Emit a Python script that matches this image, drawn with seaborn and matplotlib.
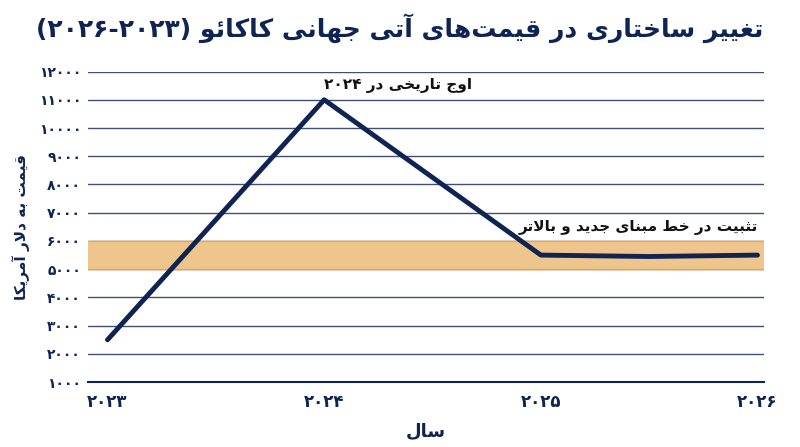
import matplotlib
matplotlib.use("Agg")
import matplotlib.pyplot as plt
import seaborn as sns
import pandas as pd

# data
years = [2023, 2024, 2025, 2025.5, 2026]
prices = [2500, 11000, 5500, 5450, 5500]
tick_years = [2023, 2024, 2025, 2026]
y_ticks = list(range(1000, 12001, 1000))
band_low, band_high = 5000, 6000

NAVY = "#0f2452"

# tiny Persian shaper (matplotlib does no Arabic shaping)
FORMS = {
    "ا": ("\uFE8D", "\uFE8E", None, None), "آ": ("\uFE81", "\uFE82", None, None),
    "د": ("\uFEA9", "\uFEAA", None, None), "ر": ("\uFEAD", "\uFEAE", None, None),
    "و": ("\uFEED", "\uFEEE", None, None),
    "ب": ("\uFE8F", "\uFE90", "\uFE91", "\uFE92"), "ت": ("\uFE95", "\uFE96", "\uFE97", "\uFE98"),
    "ث": ("\uFE99", "\uFE9A", "\uFE9B", "\uFE9C"), "ج": ("\uFE9D", "\uFE9E", "\uFE9F", "\uFEA0"),
    "خ": ("\uFEA5", "\uFEA6", "\uFEA7", "\uFEA8"), "س": ("\uFEB1", "\uFEB2", "\uFEB3", "\uFEB4"),
    "ط": ("\uFEC1", "\uFEC2", "\uFEC3", "\uFEC4"), "غ": ("\uFECD", "\uFECE", "\uFECF", "\uFED0"),
    "ق": ("\uFED5", "\uFED6", "\uFED7", "\uFED8"), "ل": ("\uFEDD", "\uFEDE", "\uFEDF", "\uFEE0"),
    "م": ("\uFEE1", "\uFEE2", "\uFEE3", "\uFEE4"), "ن": ("\uFEE5", "\uFEE6", "\uFEE7", "\uFEE8"),
    "ه": ("\uFEE9", "\uFEEA", "\uFEEB", "\uFEEC"), "ئ": ("\uFE89", "\uFE8A", "\uFE8B", "\uFE8C"),
    "ی": ("\uFBFC", "\uFBFD", "\uFBFE", "\uFBFF"), "ک": ("\uFB8E", "\uFB8F", "\uFB90", "\uFB91"),
}


def shape_word(w):
    # lam-alef ligature marker
    chars = list(w)
    out = []
    i = 0
    while i < len(chars):
        c = chars[i]
        if c == "ل" and i + 1 < len(chars) and chars[i + 1] == "ا":
            out.append("LA")
            i += 2
        else:
            out.append(c)
            i += 1
    res = []
    for i, c in enumerate(out):
        prev = out[i - 1] if i > 0 else None
        nxt = out[i + 1] if i + 1 < len(out) else None
        joins_prev = prev is not None and prev in FORMS and FORMS[prev][2] is not None
        if c == "LA":
            res.append("\uFEFC" if joins_prev else "\uFEFB")
            continue
        if c not in FORMS:
            res.append(c)
            continue
        f = FORMS[c]
        joins_next = nxt is not None and (nxt in FORMS or nxt == "LA") and f[2] is not None
        if joins_prev and joins_next:
            res.append(f[3])
        elif joins_prev:
            res.append(f[1])
        elif joins_next:
            res.append(f[2])
        else:
            res.append(f[0])
    return "".join(res)


def rtl(s):
    parts = []
    for word in s.split(" "):
        parts.append("".join(shape_word(p) for p in word.split("\u200c")))
    return " ".join(parts)[::-1]


def fa_num(n):
    return str(n).translate(str.maketrans("0123456789", "۰۱۲۳۴۵۶۷۸۹"))


sns.set_theme(style="white")
plt.rcParams["font.family"] = ["DejaVu Sans"]

df = pd.DataFrame({"year": years, "price": prices})

fig, ax = plt.subplots(figsize=(8, 4.47), dpi=100)
fig.subplots_adjust(left=0.11, right=0.955, top=0.84, bottom=0.145)

for t in y_ticks:
    ax.axhline(t, color=NAVY, lw=1.0, alpha=0.8, zorder=0)
ax.axhspan(band_low, band_high, color="#efc58e", zorder=1)
ax.axhline(band_low, color="#e8a94f", lw=1.0, zorder=1)
ax.axhline(band_high, color="#e8a94f", lw=1.0, zorder=1)

sns.lineplot(data=df, x="year", y="price", color=NAVY, lw=3.5, ax=ax, zorder=3)

ax.set_xlim(2022.91, 2026.03)
ax.set_ylim(1000, 12000)
ax.set_xticks(tick_years)
ax.set_xticklabels([fa_num(y) for y in tick_years], fontsize=12, fontweight="bold", color=NAVY)
ax.set_yticks(y_ticks)
ax.set_yticklabels([fa_num(v) for v in y_ticks], fontsize=10, fontweight="bold", color=NAVY)
ax.tick_params(axis="y", length=0, pad=5)
ax.tick_params(axis="x", length=0, pad=8)
for s in ["top", "right", "left"]:
    ax.spines[s].set_visible(False)
ax.spines["bottom"].set_color(NAVY)
ax.spines["bottom"].set_linewidth(1.5)

ax.set_xlabel(rtl("سال"), fontsize=13, fontweight="bold", color=NAVY, labelpad=8)
ax.set_ylabel(rtl("قیمت به دلار آمریکا"), fontsize=11, fontweight="bold", color=NAVY, labelpad=6)

ax.text(2024.0, 11250, fa_num(2024) + " " + rtl("اوج تاریخی در"),
        fontsize=11, fontweight="bold", color="#111111", ha="left", va="bottom")
ax.text(2026, 6200, rtl("تثبیت در خط مبنای جدید و بالاتر"),
        fontsize=11, fontweight="bold", color="#111111", ha="right", va="bottom")

fig.suptitle("(" + fa_num(2026) + "-" + fa_num(2023) + ") " + rtl("تغییر ساختاری در قیمت‌های آتی جهانی کاکائو"),
             fontsize=18, fontweight="bold", color=NAVY, y=0.97)

fig.savefig("out.png", dpi=100, facecolor="white")
